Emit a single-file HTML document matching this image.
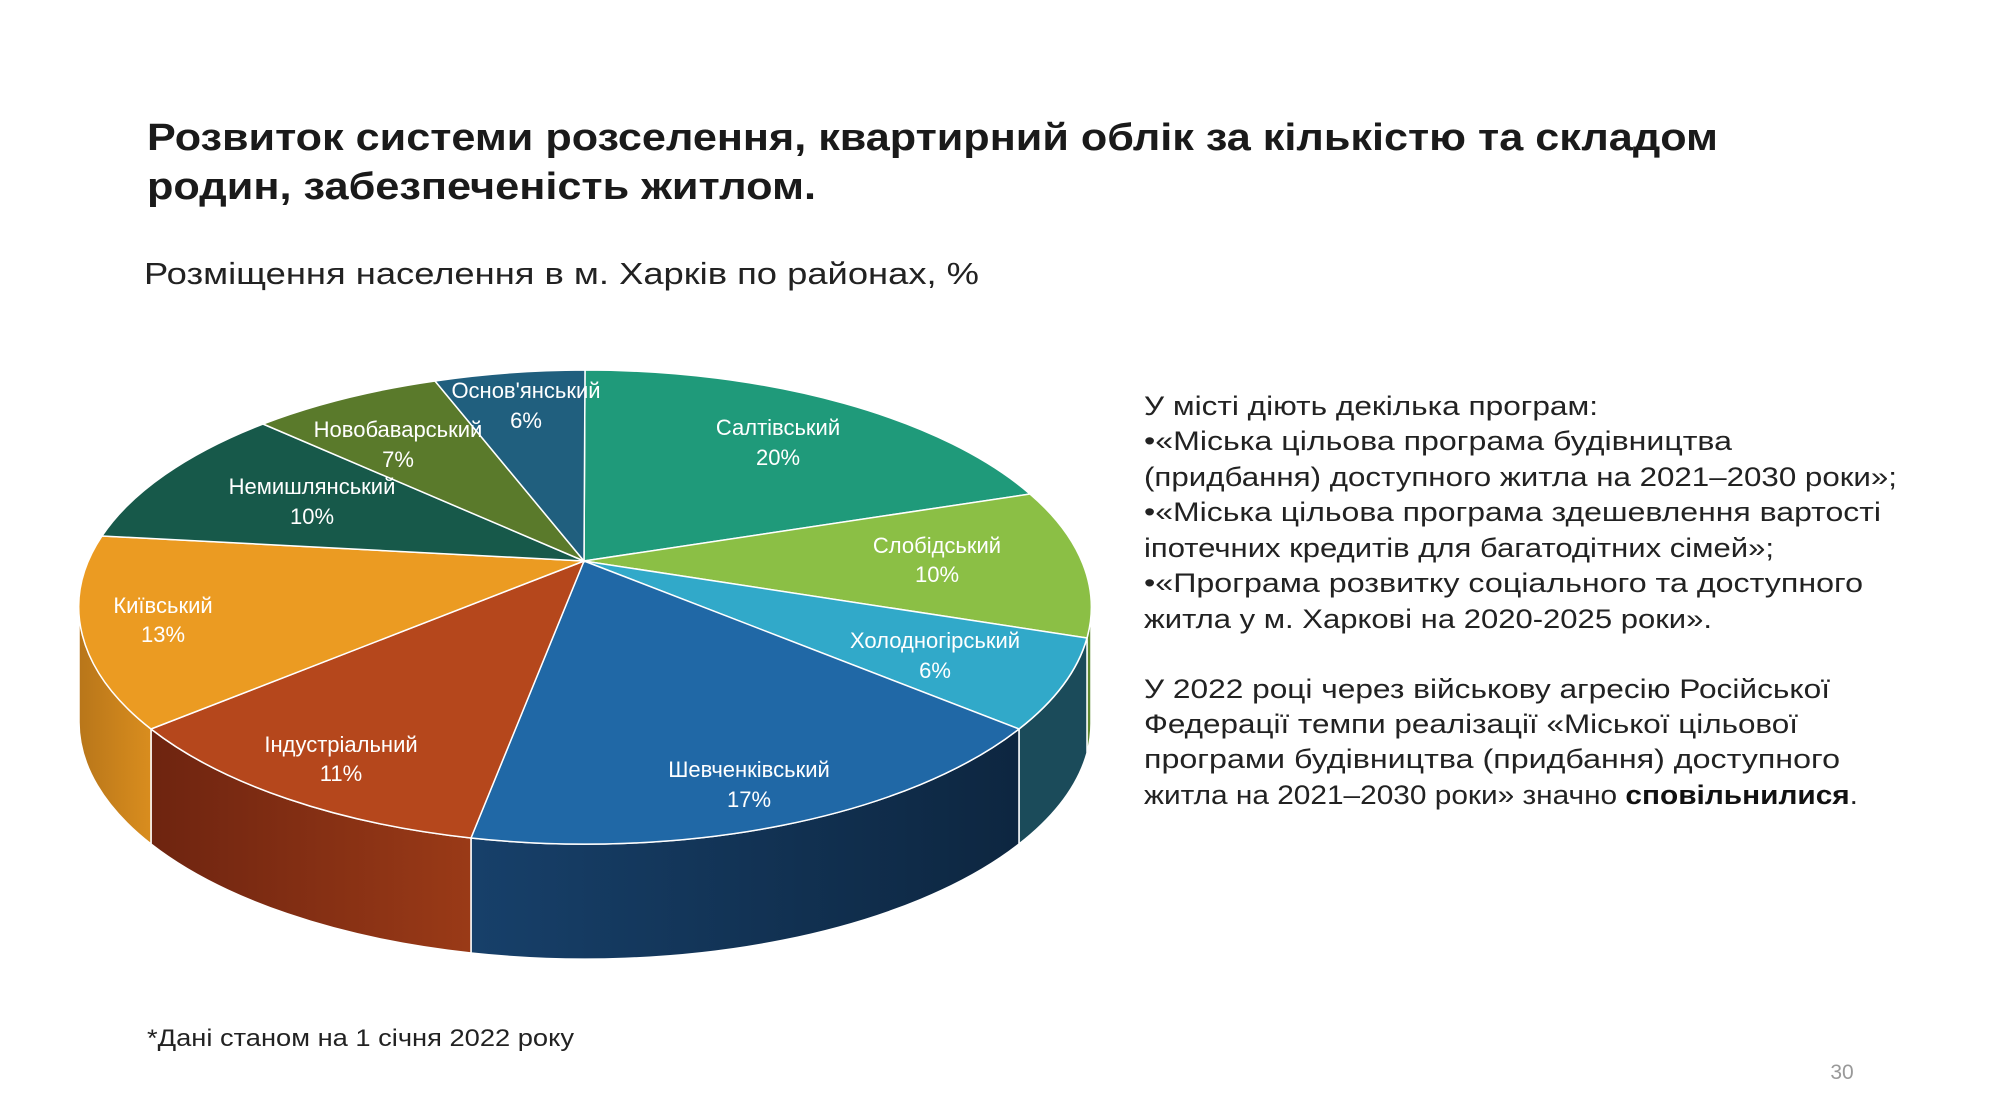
<!DOCTYPE html>
<html><head><meta charset="utf-8"><style>
html,body{margin:0;padding:0;background:#fff;}
svg{display:block;font-family:"Liberation Sans",sans-serif;}
</style></head><body>
<svg width="2000" height="1113" viewBox="0 0 2000 1113" xmlns="http://www.w3.org/2000/svg">
<rect width="2000" height="1113" fill="#fff"/>
<g fill="#1a1a1a" font-weight="bold" font-size="38">
<text x="147" y="150" textLength="1571" lengthAdjust="spacingAndGlyphs">Розвиток системи розселення, квартирний облік за кількістю та складом</text>
<text x="147" y="199" textLength="669" lengthAdjust="spacingAndGlyphs">родин, забезпеченість житлом.</text>
</g>
<text x="144" y="284" font-size="31" fill="#222" textLength="835" lengthAdjust="spacingAndGlyphs">Розміщення населення в м. Харків по районах, %</text>

<defs>
<linearGradient id="gInd" x1="0" x2="1"><stop offset="0" stop-color="#6e2410"/><stop offset="1" stop-color="#9a3a17"/></linearGradient>
<linearGradient id="gShev" x1="0" x2="1"><stop offset="0" stop-color="#17406a"/><stop offset="1" stop-color="#0d2640"/></linearGradient>
<linearGradient id="gKyiv" x1="0" x2="1"><stop offset="0" stop-color="#b8761a"/><stop offset="1" stop-color="#d98d1e"/></linearGradient>
</defs>
<!-- sides -->
<g stroke="#fff" stroke-width="1.5">
<path d="M1091,607 A506,237 0 0 1 1087,638 L1087,753 A506,237 0 0 0 1091,722 Z" fill="#5f8a30"/>
<path d="M1087,638 A506,237 0 0 1 1019,729 L1019,844 A506,237 0 0 0 1087,753 Z" fill="#1b4b5a"/>
<path d="M1019,729 A506,237 0 0 1 471,838 L471,953 A506,237 0 0 0 1019,844 Z" fill="url(#gShev)"/>
<path d="M471,838 A506,237 0 0 1 151,729 L151,844 A506,237 0 0 0 471,953 Z" fill="url(#gInd)"/>
<path d="M151,729 A506,237 0 0 1 79,607 L79,722 A506,237 0 0 0 151,844 Z" fill="url(#gKyiv)"/>
</g>
<!-- top -->
<g stroke="#fff" stroke-width="1.5">
<path d="M584,561 L585,370 A506,237 0 0 1 1030,494 Z" fill="#1f9a7a"/>
<path d="M584,561 L1030,494 A506,237 0 0 1 1087,638 Z" fill="#8bbf45"/>
<path d="M584,561 L1087,638 A506,237 0 0 1 1019,729 Z" fill="#31a9c9"/>
<path d="M584,561 L1019,729 A506,237 0 0 1 471,838 Z" fill="#2068a6"/>
<path d="M584,561 L471,838 A506,237 0 0 1 151,729 Z" fill="#b5471c"/>
<path d="M584,561 L151,729 A506,237 0 0 1 102,536 Z" fill="#eb9b22"/>
<path d="M584,561 L102,536 A506,237 0 0 1 263,424 Z" fill="#17594a"/>
<path d="M584,561 L263,424 A506,237 0 0 1 435,381 Z" fill="#5a7a2b"/>
<path d="M584,561 L435,381 A506,237 0 0 1 585,370 Z" fill="#205f7e"/>
</g>
<g fill="#fff" font-size="22" text-anchor="middle">
<text x="778" y="435">Салтівський</text><text x="778" y="465">20%</text>
<text x="937" y="553">Слобідський</text><text x="937" y="582">10%</text>
<text x="935" y="648">Холодногірський</text><text x="935" y="678">6%</text>
<text x="749" y="777">Шевченківський</text><text x="749" y="807">17%</text>
<text x="341" y="752">Індустріальний</text><text x="341" y="781">11%</text>
<text x="163" y="613">Київський</text><text x="163" y="642">13%</text>
<text x="312" y="494">Немишлянський</text><text x="312" y="524">10%</text>
<text x="398" y="437">Новобаварський</text><text x="398" y="467">7%</text>
<text x="526" y="398">Основ'янський</text><text x="526" y="428">6%</text>
</g>

<g fill="#222" font-size="27">
<text x="1144" y="415" textLength="454" lengthAdjust="spacingAndGlyphs">У місті діють декілька програм:</text>
<text x="1144" y="450" textLength="588" lengthAdjust="spacingAndGlyphs">•«Міська цільова програма будівництва</text>
<text x="1144" y="486" textLength="753" lengthAdjust="spacingAndGlyphs">(придбання) доступного житла на 2021–2030 роки»;</text>
<text x="1144" y="521" textLength="737" lengthAdjust="spacingAndGlyphs">•«Міська цільова програма здешевлення вартості</text>
<text x="1144" y="557" textLength="630" lengthAdjust="spacingAndGlyphs">іпотечних кредитів для багатодітних сімей»;</text>
<text x="1144" y="592" textLength="719" lengthAdjust="spacingAndGlyphs">•«Програма розвитку соціального та доступного</text>
<text x="1144" y="628" textLength="568" lengthAdjust="spacingAndGlyphs">житла у м. Харкові на 2020-2025 роки».</text>
<text x="1144" y="698" textLength="686" lengthAdjust="spacingAndGlyphs">У 2022 році через військову агресію Російської</text>
<text x="1144" y="733" textLength="654" lengthAdjust="spacingAndGlyphs">Федерації темпи реалізації «Міської цільової</text>
<text x="1144" y="768" textLength="696" lengthAdjust="spacingAndGlyphs">програми будівництва (придбання) доступного</text>
<text x="1144" y="804" textLength="714" lengthAdjust="spacingAndGlyphs">житла на 2021–2030 роки» значно <tspan font-weight="bold" fill="#111">сповільнилися</tspan>.</text>
</g>
<text x="147" y="1046" font-size="24" fill="#222" textLength="427" lengthAdjust="spacingAndGlyphs">*Дані станом на 1 січня 2022 року</text>
<text x="1842" y="1079" font-size="21" fill="#999" text-anchor="middle">30</text>
</svg>
</body></html>
